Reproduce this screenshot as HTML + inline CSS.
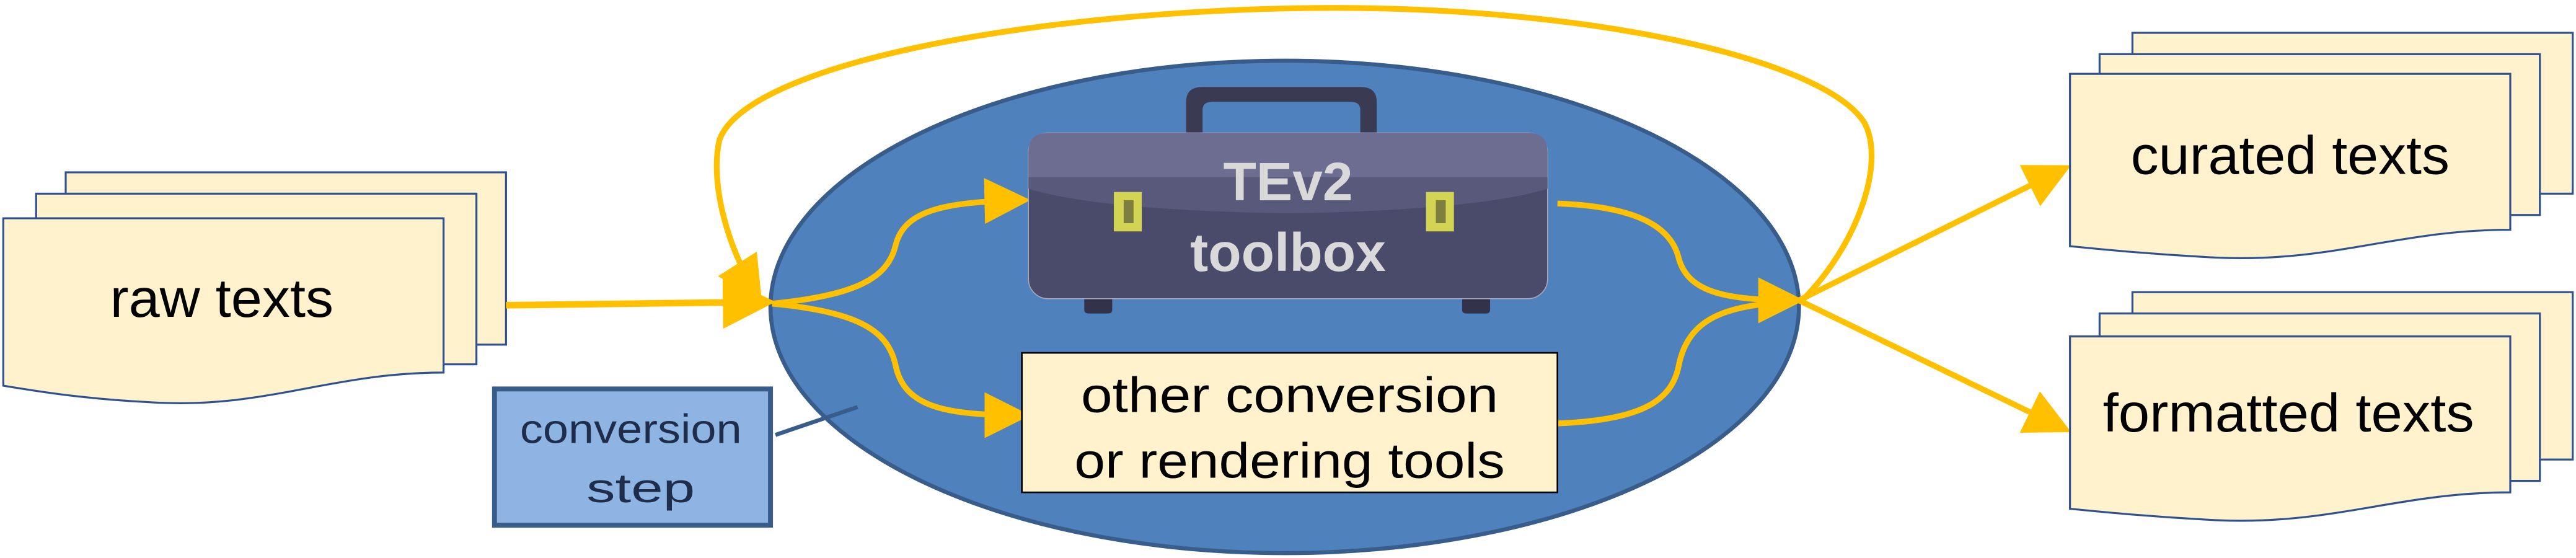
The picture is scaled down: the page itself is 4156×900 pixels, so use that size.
<!DOCTYPE html>
<html><head><meta charset="utf-8"><style>
html,body{margin:0;padding:0;background:#fff;width:4156px;height:900px;overflow:hidden}
svg{display:block}
text{font-family:"Liberation Sans",sans-serif}
</style></head><body>
<svg width="4156" height="900" viewBox="0 0 1568 340" preserveAspectRatio="none" xmlns="http://www.w3.org/2000/svg">
<defs>
<marker id="ah" markerWidth="8" markerHeight="8" refX="6.5" refY="4" orient="auto" markerUnits="strokeWidth">
<path d="M0,0 L8,4 L0,8 z" fill="#ffc000"/></marker>
</defs>
<!-- raw texts docs -->
<g fill="#fff2cc" stroke="#2f528f" stroke-width="1.2">
<rect x="40" y="105" width="268" height="105"/>
<rect x="22" y="118" width="268" height="104"/>
<path d="M2,133 H270 V227 C200,227 160,250 90,245 C50,243 20,238 2,235 z"/>
</g>
<text x="135" y="193" font-size="33" text-anchor="middle" textLength="136" lengthAdjust="spacingAndGlyphs">raw texts</text>
<!-- ellipse -->
<ellipse cx="782" cy="187" rx="313" ry="150" fill="#4f81bd" stroke="#385d8a" stroke-width="2.5"/>
<!-- top loop -->
<path d="M1097,183 C1130,150 1148,100 1135,75 C1110,35 960,2 790,5 C620,8 455,40 438,85 C432,110 442,150 461,180" fill="none" stroke="#ffc000" stroke-width="3.5" marker-end="url(#ah)"/>
<!-- input arrow -->
<line x1="308" y1="186" x2="466" y2="184" stroke="#ffc000" stroke-width="4" marker-end="url(#ah)"/>
<!-- inner curves -->
<g fill="none" stroke="#ffc000" stroke-width="3.5">
<path d="M470,185 C520,180 540,170 545,150 C550,128 575,123 622,122" marker-end="url(#ah)"/>
<path d="M470,185 C520,190 540,200 545,222 C550,248 575,253 622,253" marker-end="url(#ah)"/>
<path d="M948,124 C1000,126 1018,140 1022,158 C1028,178 1050,183 1093,183" marker-end="url(#ah)"/>
<path d="M948,258 C1000,256 1018,244 1022,222 C1028,194 1050,186 1090,184"/>
<line x1="1095" y1="183" x2="1256" y2="103" marker-end="url(#ah)"/>
<line x1="1095" y1="183" x2="1256" y2="261" marker-end="url(#ah)"/>
</g>
<!-- toolbox -->
<path d="M722,81 V62 Q722,53 732,53 H828 Q838,53 838,62 V81 H828 V67 Q828,62 822,62 H738 Q732,62 732,67 V81 z" fill="#3a3a52"/>
<rect x="660" y="178" width="17" height="13" rx="2" fill="#32324a"/>
<rect x="890" y="178" width="17" height="13" rx="2" fill="#32324a"/>
<rect x="626" y="81" width="316" height="101" rx="12" fill="#4a4a6b" stroke="#aab" stroke-width="0.6"/>
<path d="M638,81 H930 Q942,81 942,93 V108 H626 V93 Q626,81 638,81 z" fill="#6d6d91"/>
<path d="M626,108 H942 V115 Q900,128 784,130 Q668,128 626,115 z" fill="#59597b"/>
<rect x="678" y="117" width="17" height="24" fill="#d4d454"/>
<rect x="684" y="122" width="6" height="14" fill="#7e7e3e"/>
<rect x="868" y="117" width="17" height="24" fill="#d4d454"/>
<rect x="874" y="122" width="6" height="14" fill="#7e7e3e"/>
<text x="784" y="122" font-size="33" font-weight="bold" fill="#d9d9d9" text-anchor="middle">TEv2</text>
<text x="784" y="165" font-size="33" font-weight="bold" fill="#d9d9d9" text-anchor="middle">toolbox</text>
<!-- other conversion -->
<rect x="622" y="215" width="326" height="85" fill="#fff2cc" stroke="#000" stroke-width="1"/>
<text x="785" y="251" font-size="30" text-anchor="middle" textLength="254" lengthAdjust="spacingAndGlyphs">other conversion</text>
<text x="785" y="291" font-size="30" text-anchor="middle" textLength="262" lengthAdjust="spacingAndGlyphs">or rendering tools</text>
<!-- conversion step -->
<line x1="472" y1="265" x2="522" y2="248" stroke="#385d8a" stroke-width="2.5"/>
<rect x="301" y="237" width="168" height="83" fill="#8eb4e3" stroke="#385d8a" stroke-width="3"/>
<text x="384" y="270" font-size="25" fill="#1f2d4a" text-anchor="middle" textLength="135" lengthAdjust="spacingAndGlyphs">conversion</text>
<text x="390" y="306" font-size="25" fill="#1f2d4a" text-anchor="middle" textLength="66" lengthAdjust="spacingAndGlyphs">step</text>
<!-- curated docs -->
<g fill="#fff2cc" stroke="#2f528f" stroke-width="1.2">
<rect x="1298" y="20" width="268" height="98"/>
<rect x="1278" y="33" width="268" height="98"/>
<path d="M1260,45 H1528 V140 C1460,140 1420,160 1350,157 C1310,155 1280,152 1260,150 z"/>
<rect x="1298" y="178" width="268" height="102"/>
<rect x="1278" y="191" width="268" height="102"/>
<path d="M1260,205 H1528 V300 C1460,300 1420,320 1350,317 C1310,315 1280,312 1260,310 z"/>
</g>
<text x="1394" y="106" font-size="33" text-anchor="middle" textLength="194" lengthAdjust="spacingAndGlyphs">curated texts</text>
<text x="1393" y="263" font-size="33" text-anchor="middle" textLength="226" lengthAdjust="spacingAndGlyphs">formatted texts</text>
</svg>
</body></html>
